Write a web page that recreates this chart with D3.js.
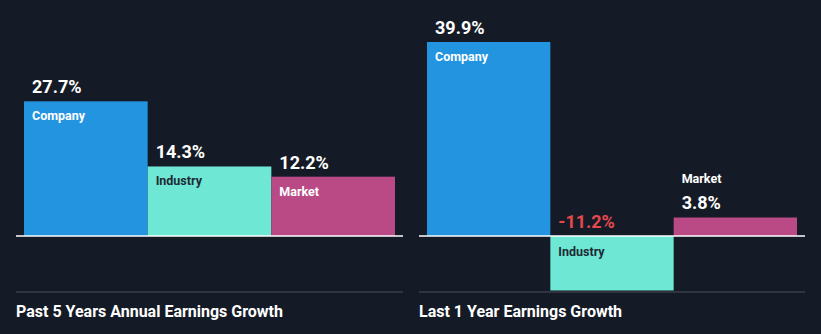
<!DOCTYPE html>
<html>
<head>
<meta charset="utf-8">
<script src="https://cdn.jsdelivr.net/npm/d3@7/dist/d3.min.js"></script>
<style>
  html, body { margin: 0; padding: 0; background: #151b26; }
  svg { display: block; font-family: Roboto, "Noto Sans", sans-serif; }
</style>
</head>
<body>
<svg id="chart" width="821" height="334"></svg>
<script>
// Earnings growth figures (percent)
const categories = ["Company", "Industry", "Market"];
const pastFiveYears = [27.7, 14.3, 12.2];
const lastYear = [39.9, -11.2, 3.8];
const panelTitles = ["Past 5 Years Annual Earnings Growth", "Last 1 Year Earnings Growth"];

const colors = { Company: "#2394df", Industry: "#6ee7d4", Market: "#b94a86" };
const labelColors = { Company: "#ffffff", Industry: "#1e2a36", Market: "#ffffff" };

const svg = d3.select("#chart");
const W = 821, H = 334;
svg.append("rect").attr("width", W).attr("height", H).attr("fill", "#151b26");

// Shared vertical scale for both panels
const y = d3.scaleLinear().domain([0, 39.9]).range([236, 42]);

const panels = [
  { values: pastFiveYears, title: panelTitles[0], x0: 16, x1: 403, barX0: 24, barX1: 395 },
  { values: lastYear, title: panelTitles[1], x0: 419, x1: 805, barX0: 427, barX1: 797 }
];

const VAL_SIZE = 18, CAT_SIZE = 12.5;

panels.forEach(p => {
  const g = svg.append("g");
  const x = d3.scaleBand().domain(categories).range([p.barX0, p.barX1]).padding(0);
  const data = categories.map((c, i) => ({ cat: c, v: p.values[i] }));

  g.selectAll("rect.bar").data(data).join("rect")
    .attr("class", "bar")
    .attr("x", d => x(d.cat))
    .attr("width", x.bandwidth())
    .attr("y", d => Math.min(y(d.v), y(0)))
    .attr("height", d => Math.abs(y(d.v) - y(0)))
    .attr("fill", d => colors[d.cat]);

  // zero line
  g.append("line")
    .attr("x1", p.x0).attr("x2", p.x1)
    .attr("y1", y(0)).attr("y2", y(0))
    .attr("stroke", "#ffffff").attr("stroke-width", 1.5);

  // bottom separator
  g.append("line")
    .attr("x1", p.x0).attr("x2", p.x1)
    .attr("y1", 292).attr("y2", 292)
    .attr("stroke", "#4a4f5a").attr("stroke-width", 1);

  data.forEach(d => {
    const lx = x(d.cat) + 8;
    const h = Math.abs(y(d.v) - y(0));
    const valText = d.v.toFixed(1) + "%";
    if (d.v < 0) {
      g.append("text").attr("x", lx).attr("y", y(0) - 8)
        .attr("fill", "#e5484d").attr("font-size", VAL_SIZE).attr("font-weight", 700)
        .text(valText);
      g.append("text").attr("x", lx).attr("y", y(0) + 20)
        .attr("fill", labelColors[d.cat]).attr("font-size", CAT_SIZE).attr("font-weight", 700)
        .text(d.cat);
    } else if (h < 30) {
      g.append("text").attr("x", lx).attr("y", y(d.v) - 9)
        .attr("fill", "#ffffff").attr("font-size", VAL_SIZE).attr("font-weight", 700)
        .text(valText);
      g.append("text").attr("x", lx).attr("y", y(d.v) - 35)
        .attr("fill", "#ffffff").attr("font-size", CAT_SIZE).attr("font-weight", 700)
        .text(d.cat);
    } else {
      g.append("text").attr("x", lx).attr("y", y(d.v) - 8)
        .attr("fill", "#ffffff").attr("font-size", VAL_SIZE).attr("font-weight", 700)
        .text(valText);
      g.append("text").attr("x", lx).attr("y", y(d.v) + 19)
        .attr("fill", labelColors[d.cat]).attr("font-size", CAT_SIZE).attr("font-weight", 700)
        .text(d.cat);
    }
  });

  g.append("text").attr("x", p.x0).attr("y", 317)
    .attr("fill", "#ffffff").attr("font-size", 16).attr("font-weight", 700)
    .text(p.title);
});
</script>
</body>
</html>
